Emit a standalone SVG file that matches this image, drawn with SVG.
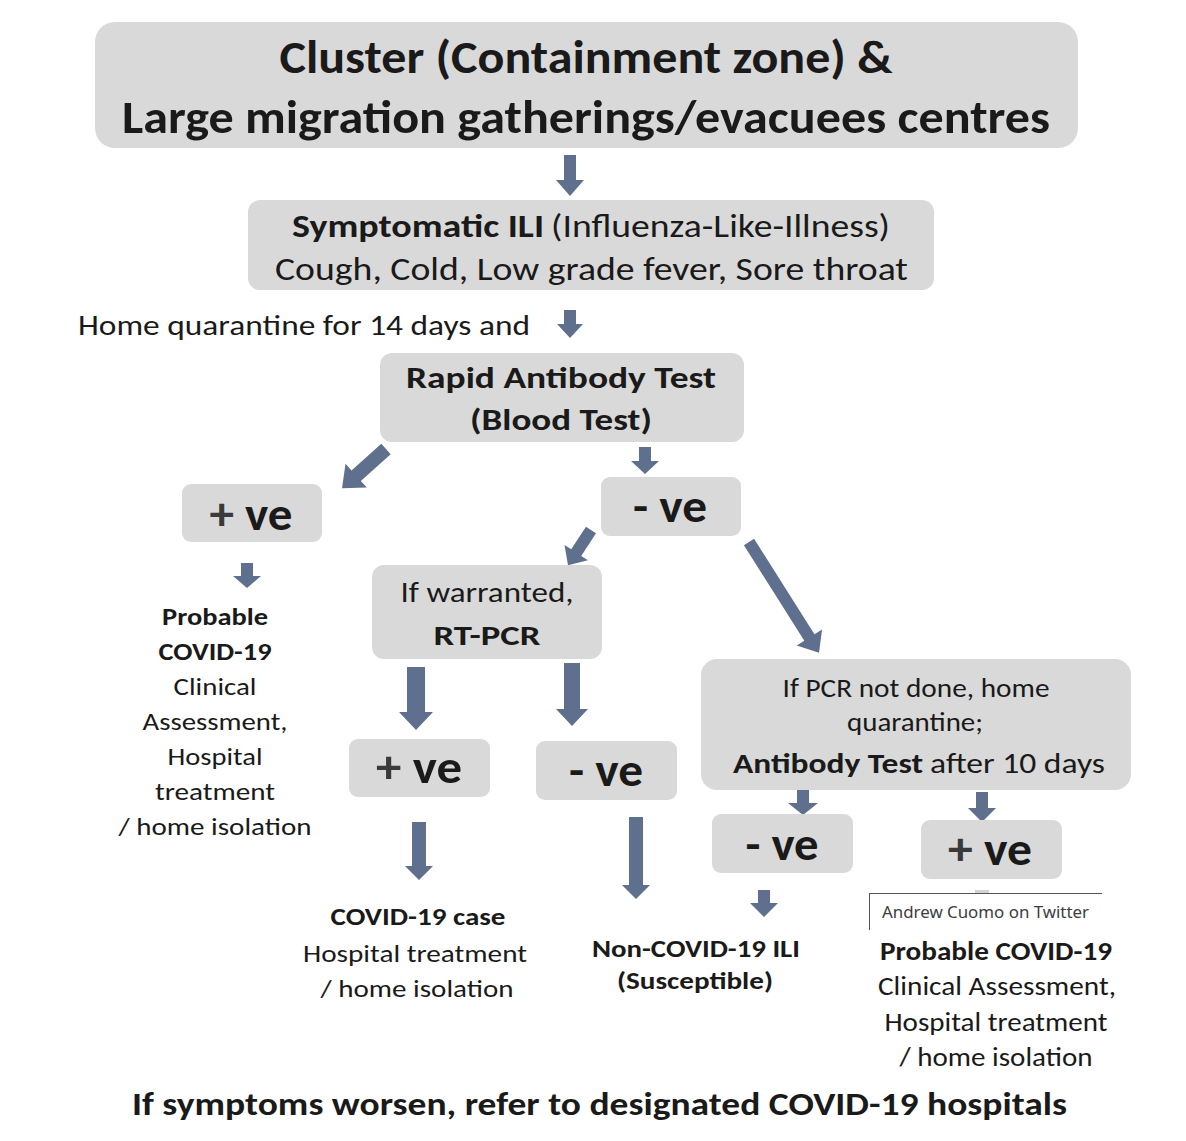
<svg xmlns="http://www.w3.org/2000/svg" width="1186" height="1141" viewBox="0 0 1186 1141">
<style>
.box{fill:#d9d9d9}
.arr{fill:#5f6f8e}
text{font-family:Carlito,"Liberation Sans",Arial,sans-serif;fill:#1a1a1a}
.b{font-weight:bold}
.m{text-anchor:middle}
.pm{fill:#3a3a3a}
.tip{font-family:"Noto Sans","Open Sans","Liberation Sans",sans-serif;fill:#3c3c3c;font-size:17px}
</style>
<rect width="1186" height="1141" fill="#ffffff"/>

<g id="connectors">
<polygon class="arr" points="564,155 576,155 576,180 584,180 570,196 556,180 564,180"/>
<polygon class="arr" points="564,310 576,310 576,324 583,324 570,338 557,324 564,324"/>
<polygon class="arr" transform="translate(386,449) rotate(48.2)" points="-7,0 7,0 7,40 16,40 0,59 -16,40 -7,40"/>
<polygon class="arr" points="639,447 651,447 651,461 659,461 645,474 631,461 639,461"/>
<polygon class="arr" points="241,563 253,563 253,576 261,576 247,588 233,576 241,576"/>
<polygon class="arr" transform="translate(591,530) rotate(33.2)" points="-6,0 6,0 6,27 14,27 0,42 -14,27 -6,27"/>
<polygon class="arr" transform="translate(749,542) rotate(-32.3)" points="-6,0 6,0 6,113 15,113 0,131 -15,113 -6,113"/>
<polygon class="arr" points="407,667 425,667 425,712 433,712 416,730 399,712 407,712"/>
<polygon class="arr" points="564,663 580,663 580,709 588,709 572,726 556,709 564,709"/>
<polygon class="arr" points="412,822 426,822 426,866 433,866 419,880 405,866 412,866"/>
<polygon class="arr" points="629,817 643,817 643,885 650,885 636,899 622,885 629,885"/>
<polygon class="arr" points="797,790 809,790 809,803 818,803 803,815 788,803 797,803"/>
<polygon class="arr" points="976,792 988,792 988,808 996,808 982,822 968,808 976,808"/>
<polygon class="arr" points="758,890 770,890 770,903 778,903 764,917 750,903 758,903"/>
<polygon fill="#cfd2d8" points="975,890 989,890 989,910 996,910 982,925 968,910 975,910"/>
</g>

<g id="n-cluster">
<rect class="box" x="95" y="22" width="983" height="126" rx="20"/>
<text class="b m" x="586" y="73" font-size="46" textLength="613" lengthAdjust="spacingAndGlyphs">Cluster (Containment zone) &amp;</text>
<text class="b m" x="586" y="133" font-size="46" textLength="928" lengthAdjust="spacingAndGlyphs">Large migration gatherings/evacuees centres</text>
</g>

<g id="n-ili">
<rect class="box" x="248" y="200" width="686" height="90" rx="12"/>
<text class="b" x="292" y="237" font-size="32" textLength="252" lengthAdjust="spacingAndGlyphs">Symptomatic ILI</text>
<text x="551" y="237" font-size="32" textLength="339" lengthAdjust="spacingAndGlyphs">(Influenza-Like-Illness)</text>
<text x="275" y="280" font-size="32" textLength="633" lengthAdjust="spacingAndGlyphs">Cough, Cold, Low grade fever, Sore throat</text>
</g>

<g id="n-homeq">
<text x="78" y="335" font-size="28" textLength="452" lengthAdjust="spacingAndGlyphs">Home quarantine for 14 days and</text>
</g>

<g id="n-rapid">
<rect class="box" x="380" y="353" width="364" height="89" rx="12"/>
<text class="b m" x="561" y="388" font-size="31" textLength="310" lengthAdjust="spacingAndGlyphs">Rapid Antibody Test</text>
<text class="b m" x="561" y="430" font-size="31" textLength="182" lengthAdjust="spacingAndGlyphs">(Blood Test)</text>
</g>

<g id="n-pos1">
<rect class="box" x="182" y="484" width="140" height="58" rx="9"/>
<text class="b m" x="251" y="530" font-size="46" textLength="83" lengthAdjust="spacingAndGlyphs"><tspan class="pm">+</tspan> ve</text>
</g>

<g id="n-neg1">
<rect class="box" x="601" y="477" width="140" height="59" rx="9"/>
<text class="b m" x="670" y="522" font-size="46" textLength="74" lengthAdjust="spacingAndGlyphs">- ve</text>
</g>

<g id="n-probable1">
<text class="b m" x="215" y="625" font-size="24" textLength="106" lengthAdjust="spacingAndGlyphs">Probable</text>
<text class="b m" x="215" y="660" font-size="24" textLength="113" lengthAdjust="spacingAndGlyphs">COVID-19</text>
<text class="m" x="215" y="695" font-size="24" textLength="83" lengthAdjust="spacingAndGlyphs">Clinical</text>
<text class="m" x="215" y="730" font-size="24" textLength="145" lengthAdjust="spacingAndGlyphs">Assessment,</text>
<text class="m" x="215" y="765" font-size="24" textLength="95" lengthAdjust="spacingAndGlyphs">Hospital</text>
<text class="m" x="215" y="800" font-size="24" textLength="120" lengthAdjust="spacingAndGlyphs">treatment</text>
<text class="m" x="215" y="835" font-size="24" textLength="193" lengthAdjust="spacingAndGlyphs">/ home isolation</text>
</g>

<g id="n-rtpcr">
<rect class="box" x="372" y="565" width="230" height="94" rx="12"/>
<text class="m" x="487" y="602" font-size="28" textLength="173" lengthAdjust="spacingAndGlyphs">If warranted,</text>
<text class="b m" x="487" y="645" font-size="28" textLength="107" lengthAdjust="spacingAndGlyphs">RT-PCR</text>
</g>

<g id="n-pcrnotdone">
<rect class="box" x="701" y="659" width="430" height="131" rx="16"/>
<text class="m" x="916" y="697" font-size="26" textLength="267" lengthAdjust="spacingAndGlyphs">If PCR not done, home</text>
<text class="m" x="915" y="731" font-size="26" textLength="136" lengthAdjust="spacingAndGlyphs">quarantine;</text>
<text class="b" x="733" y="773" font-size="29" textLength="190" lengthAdjust="spacingAndGlyphs">Antibody Test</text>
<text x="930" y="773" font-size="29" textLength="175" lengthAdjust="spacingAndGlyphs">after 10 days</text>
</g>

<g id="n-pos2">
<rect class="box" x="349" y="739" width="141" height="58" rx="9"/>
<text class="b m" x="419" y="783" font-size="46" textLength="86" lengthAdjust="spacingAndGlyphs"><tspan class="pm">+</tspan> ve</text>
</g>

<g id="n-neg2">
<rect class="box" x="536" y="741" width="141" height="59" rx="9"/>
<text class="b m" x="606" y="786" font-size="46" textLength="74" lengthAdjust="spacingAndGlyphs">- ve</text>
</g>

<g id="n-neg3">
<rect class="box" x="712" y="814" width="141" height="59" rx="9"/>
<text class="b m" x="782" y="860" font-size="46" textLength="73" lengthAdjust="spacingAndGlyphs">- ve</text>
</g>

<g id="n-pos3">
<rect class="box" x="921" y="820" width="141" height="59" rx="9"/>
<text class="b m" x="990" y="865" font-size="46" textLength="84" lengthAdjust="spacingAndGlyphs"><tspan class="pm">+</tspan> ve</text>
</g>

<g id="n-covidcase">
<text class="b m" x="418" y="925" font-size="25" textLength="175" lengthAdjust="spacingAndGlyphs">COVID-19 case</text>
<text class="m" x="415" y="962" font-size="25" textLength="224" lengthAdjust="spacingAndGlyphs">Hospital treatment</text>
<text class="m" x="417" y="997" font-size="25" textLength="193" lengthAdjust="spacingAndGlyphs">/ home isolation</text>
</g>

<g id="n-noncovid">
<text class="b m" x="696" y="957" font-size="25" textLength="208" lengthAdjust="spacingAndGlyphs">Non-COVID-19 ILI</text>
<text class="b m" x="695" y="989" font-size="25" textLength="156" lengthAdjust="spacingAndGlyphs">(Susceptible)</text>
</g>

<g id="n-probable2">
<text class="b m" x="996" y="960" font-size="26" textLength="232" lengthAdjust="spacingAndGlyphs">Probable COVID-19</text>
<text class="m" x="997" y="995" font-size="26" textLength="238" lengthAdjust="spacingAndGlyphs">Clinical Assessment,</text>
<text class="m" x="996" y="1031" font-size="26" textLength="223" lengthAdjust="spacingAndGlyphs">Hospital treatment</text>
<text class="m" x="996" y="1066" font-size="26" textLength="193" lengthAdjust="spacingAndGlyphs">/ home isolation</text>
</g>

<g id="n-footer">
<text class="b" x="132" y="1115" font-size="33" textLength="935" lengthAdjust="spacingAndGlyphs">If symptoms worsen, refer to designated COVID-19 hospitals</text>
</g>

<g id="n-tooltip">
<rect x="869" y="893" width="233" height="38" fill="#ffffff"/>
<line x1="869" y1="893.5" x2="1102" y2="893.5" stroke="#555" stroke-width="1"/>
<line x1="869.5" y1="893" x2="869.5" y2="930" stroke="#555" stroke-width="1"/>
<text class="tip" x="882" y="918" textLength="207" lengthAdjust="spacingAndGlyphs">Andrew Cuomo on Twitter</text>
</g>
</svg>
